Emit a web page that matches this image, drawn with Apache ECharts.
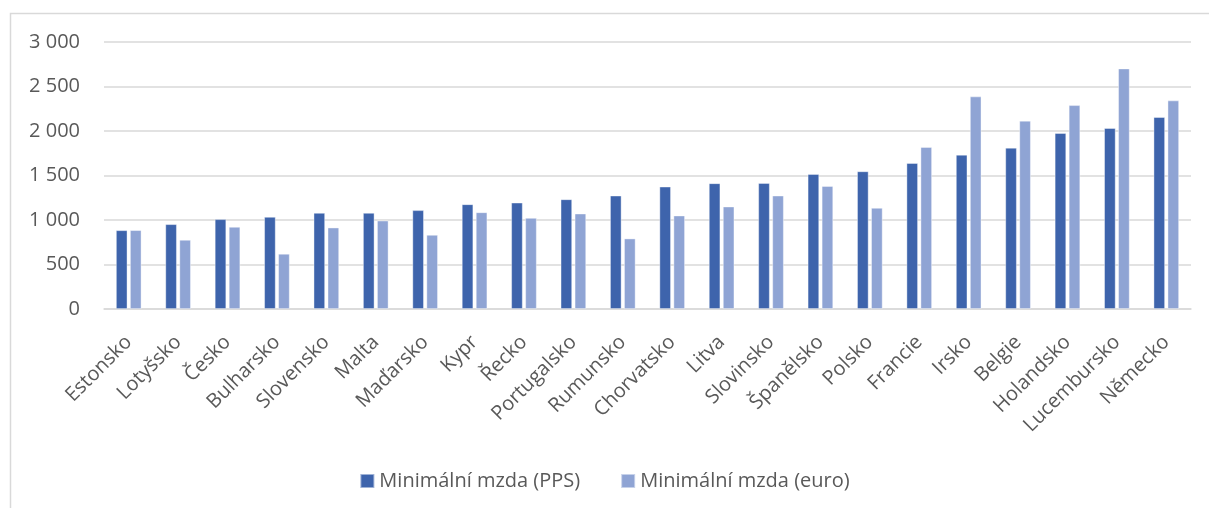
<!DOCTYPE html>
<html>
<head>
<meta charset="utf-8">
<script src="https://cdn.jsdelivr.net/npm/echarts@6/dist/echarts.min.js"></script>
<style>
  html, body { margin: 0; padding: 0; background: #fff; }
  #chart { width: 1209px; height: 508px; }
</style>
</head>
<body>
<div id="chart"></div>
<script>
// kategorie (státy)
let countries = ['Estonsko', 'Lotyšsko', 'Česko', 'Bulharsko', 'Slovensko', 'Malta', 'Maďarsko', 'Kypr', 'Řecko', 'Portugalsko', 'Rumunsko', 'Chorvatsko', 'Litva', 'Slovinsko', 'Španělsko', 'Polsko', 'Francie', 'Irsko', 'Belgie', 'Holandsko', 'Lucembursko', 'Německo']

// minimální mzda v PPS
let wagePps = [885, 953, 1009, 1035, 1080, 1080, 1110, 1177, 1195, 1233, 1274, 1375, 1413, 1416, 1517, 1547, 1640, 1733, 1812, 1977, 2033, 2156]

// minimální mzda v eurech
let wageEuro = [886, 777, 923, 620, 915, 993, 833, 1087, 1023, 1072, 792, 1050, 1151, 1274, 1382, 1136, 1820, 2388, 2115, 2290, 2702, 2343]

let seriesNames = ['Minimální mzda (PPS)', 'Minimální mzda (euro)']

let textColor = '#595959'
let lineColor = '#d9d9d9'
let font = 'Open Sans'

// tisíce oddělené mezerou
let fmt = function (v) {
  return String(v).replace(/\B(?=(\d{3})+(?!\d))/g, ' ')
}

let el = document.querySelector('#chart')
let chartInstance = echarts.init(el)

let chartOption = {
  animation: false,
  textStyle: { fontFamily: font },
  graphic: [
    // rámeček grafu
    {
      type: 'polyline',
      silent: true,
      shape: { points: [[10.5, 508], [10.5, 13.5], [1209, 13.5]] },
      style: { stroke: lineColor, lineWidth: 1.5, fill: null }
    }
  ],
  grid: { left: 104, right: 18, top: 42, bottom: 199, containLabel: false },
  legend: {
    data: seriesNames,
    left: 'center',
    top: 466,
    itemWidth: 14,
    itemHeight: 14,
    itemGap: 40,
    icon: 'rect',
    textStyle: { color: textColor, fontSize: 20, fontFamily: font }
  },
  xAxis: {
    type: 'category',
    data: countries,
    axisLine: { lineStyle: { color: lineColor, width: 1.5 } },
    axisTick: { show: false },
    axisLabel: {
      interval: 0,
      rotate: 45,
      margin: 30,
      color: textColor,
      fontSize: 20,
      fontFamily: font
    }
  },
  yAxis: {
    type: 'value',
    min: 0,
    max: 3000,
    interval: 500,
    axisLine: { show: false },
    axisTick: { show: false },
    splitLine: { lineStyle: { color: lineColor, width: 1.5 } },
    axisLabel: {
      margin: 24,
      color: textColor,
      fontSize: 20,
      fontFamily: font,
      formatter: fmt
    }
  },
  series: [
    {
      name: seriesNames[0],
      type: 'bar',
      data: wagePps,
      barWidth: 11.5,
      barGap: '22%',
      itemStyle: { color: '#3e64ac', borderColor: 'rgba(255,255,255,0.5)', borderWidth: 0.8 }
    },
    {
      name: seriesNames[1],
      type: 'bar',
      data: wageEuro,
      barWidth: 11.5,
      itemStyle: { color: '#8fa4d4', borderColor: 'rgba(255,255,255,0.5)', borderWidth: 0.8 }
    }
  ]
}

chartInstance.setOption(chartOption)
</script>
</body>
</html>
